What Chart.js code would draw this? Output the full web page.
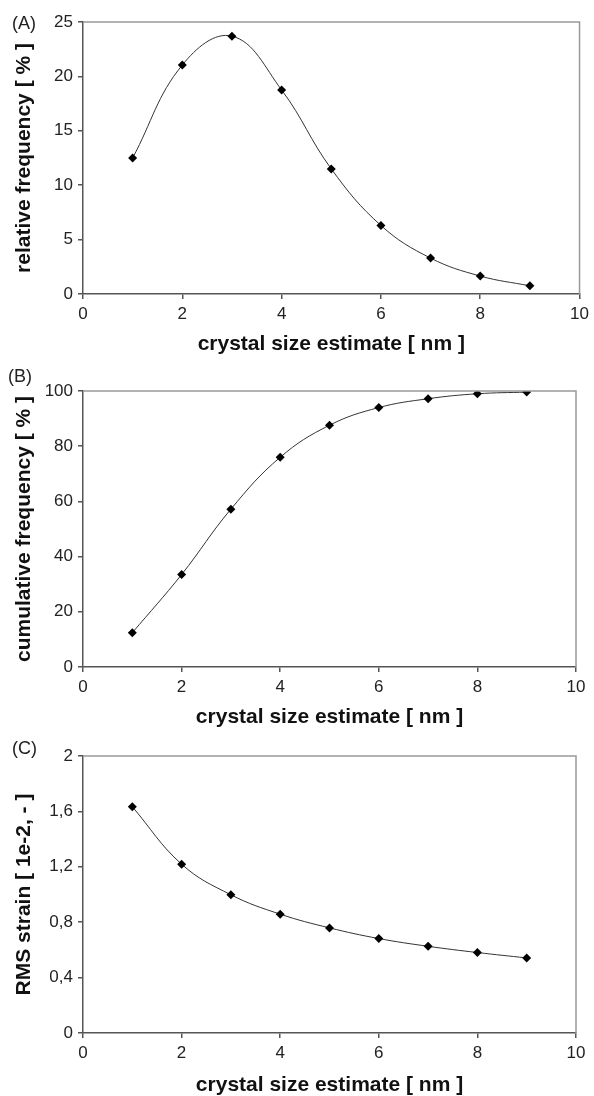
<!DOCTYPE html>
<html>
<head>
<meta charset="utf-8">
<script src="https://cdn.jsdelivr.net/npm/chart.js@4.4.1/dist/chart.umd.min.js"></script>
<style>
  body{margin:0;background:#fff;}
  #wrap{position:relative;width:594px;height:1096px;overflow:hidden;}
  canvas{position:absolute;left:0;}
  .tag{position:absolute;font:18px "Liberation Sans",Arial,sans-serif;color:#222;line-height:18px;}
</style>
</head>
<body>
<div id="wrap">
  <canvas id="chartA" width="594" height="380" style="top:0px"></canvas>
  <canvas id="chartB" width="594" height="380" style="top:360px"></canvas>
  <canvas id="chartC" width="594" height="380" style="top:716px"></canvas>
  <div class="tag" style="left:12px;top:14px">(A)</div>
  <div class="tag" style="left:8px;top:367px">(B)</div>
  <div class="tag" style="left:12px;top:739px">(C)</div>
</div>
<script>
// data
const crystalSize=[1,2,3,4,5,6,7,8,9];
const relFreq=[12.5,21.05,23.7,18.75,11.5,6.3,3.3,1.65,0.75];
const cumFreq=[12.4,33.5,57.2,76.0,87.6,94.0,97.2,99.0,99.6];
const rmsStrain=[1.634,1.219,0.998,0.858,0.759,0.682,0.626,0.581,0.542];
const xTitle='crystal size estimate [ nm ]';

const fontFam='"Liberation Sans", Arial, sans-serif';
const axisCol='#555', frameCol='#999';

// top + right frame lines of the plot box
const framePlugin={
  id:'frame',
  afterDraw(chart){
    const {ctx,chartArea:a}=chart;
    ctx.save();
    ctx.strokeStyle=frameCol; ctx.lineWidth=1.5;
    ctx.beginPath();
    ctx.moveTo(a.left,a.top); ctx.lineTo(a.right,a.top); ctx.lineTo(a.right,a.bottom);
    ctx.stroke();
    ctx.restore();
  }
};

function makeChart(id, values, yMin, yMax, yStep, yTitle, pad, xHeight, titleBottom, fmt){
  return new Chart(document.getElementById(id),{
    type:'line',
    data:{datasets:[{
      data:crystalSize.map((x,i)=>({x, y:values[i]})),
      borderColor:'#333', borderWidth:1, tension:0.4,
      pointStyle:'rectRot', pointRadius:4.5, pointBackgroundColor:'#000', pointBorderColor:'#000', pointBorderWidth:0
    }]},
    options:{
      responsive:false, animation:false, devicePixelRatio:1,
      layout:{padding:pad},
      plugins:{legend:{display:false}, tooltip:{enabled:false}},
      scales:{
        x:{type:'linear', min:0, max:10,
          ticks:{stepSize:2, padding:5, color:'#222', font:{family:fontFam,size:17}},
          grid:{drawOnChartArea:false, tickLength:5, color:axisCol, lineWidth:1.5},
          border:{color:axisCol, width:1.5},
          title:{display:true, text:xTitle, color:'#111', font:{family:fontFam,size:21,weight:'bold',lineHeight:1}, padding:{top:0,bottom:titleBottom}},
          afterFit:s=>{s.height=xHeight;}
        },
        y:{min:yMin, max:yMax,
          ticks:{stepSize:yStep, padding:5, color:'#222', font:{family:fontFam,size:17}, callback:fmt||(v=>v)},
          grid:{drawOnChartArea:false, tickLength:5, color:axisCol, lineWidth:1.5},
          border:{color:axisCol, width:1.5},
          title:{display:true, text:yTitle, color:'#111', font:{family:fontFam,size:21,weight:'bold',lineHeight:1}, padding:{top:14,bottom:0}},
          afterFit:s=>{s.width=83;}
        }
      }
    },
    plugins:[framePlugin]
  });
}

const comma=v=>String(Number(v.toFixed(1))).replace('.',',');

makeChart('chartA', relFreq, 0, 25, 5, 'relative frequency [ % ]', {top:22,right:14,left:0,bottom:0}, 86, 25);
makeChart('chartB', cumFreq, 0, 100, 20, 'cumulative frequency [ % ]', {top:31,right:18,left:0,bottom:0}, 73, 12);
makeChart('chartC', rmsStrain, 0, 2, 0.4, 'RMS strain [ 1e-2, - ]', {top:40,right:18,left:0,bottom:0}, 63, 0, comma);
</script>
</body>
</html>
